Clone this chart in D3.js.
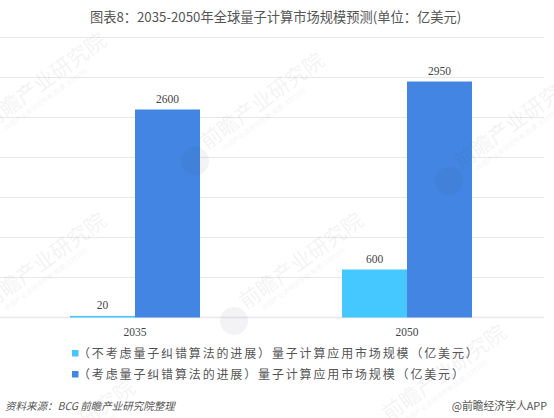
<!DOCTYPE html>
<html>
<head>
<meta charset="utf-8">
<script src="https://cdn.jsdelivr.net/npm/d3@7"></script>
<style>
html, body { margin: 0; padding: 0; background: #fff; }
svg { display: block; }
text { font-family: "Noto Sans CJK SC", "Liberation Sans", sans-serif; }
</style>
</head>
<body>
<div id="chart"></div>
<script>
var years = ["2035", "2050"];
var seriesNames = [
  "（不考虑量子纠错算法的进展）量子计算应用市场规模（亿美元）",
  "（考虑量子纠错算法的进展）量子计算应用市场规模（亿美元）"
];
var withoutCorrection = [20, 600];
var withCorrection = [2600, 2950];
var gridTicks = [0, 500, 1000, 1500, 2000, 2500, 3000, 3500];
var seriesColors = ["#45c8ff", "#4285e2"];

var width = 554, height = 418;
var svg = d3.select("#chart").append("svg").attr("width", width).attr("height", height);

var x = d3.scaleBand().domain(years).range([-1, 543]);
var y = d3.scaleLinear().domain([0, 3500]).range([317.5, 37.5]);
var xInner = d3.scaleBand().domain([0, 1]).range([0, 130]);

svg.append("text").attr("x", 275.5).attr("y", 21.5).attr("text-anchor", "middle")
  .attr("font-size", 13.25).attr("fill", "#555")
  .text("图表8：2035-2050年全球量子计算市场规模预测(单位：亿美元)");

svg.append("g").selectAll("line").data(gridTicks).join("line")
  .attr("x1", 0).attr("x2", 544)
  .attr("y1", function(d) { return y(d); })
  .attr("y2", function(d) { return y(d); })
  .attr("stroke", "#e8e8ea")
  .attr("stroke-width", function(d) { return d === 0 ? 1.5 : 1; });

[withoutCorrection, withCorrection].forEach(function(values, s) {
  var g = svg.append("g");
  function barX(d, i) { return x(years[i]) + (x.bandwidth() - 130) / 2 + xInner(s); }
  g.selectAll("rect").data(values).join("rect")
    .attr("x", barX)
    .attr("y", function(d) { return y(d); })
    .attr("width", xInner.bandwidth())
    .attr("height", function(d) { return y(0) - y(d); })
    .attr("fill", seriesColors[s]);
  g.selectAll("text").data(values).join("text")
    .attr("x", function(d, i) { return barX(d, i) + xInner.bandwidth() / 2; })
    .attr("y", function(d) { return y(d) - 7; })
    .attr("text-anchor", "middle")
    .style("font-family", "Liberation Serif")
    .attr("font-size", 11.5).attr("fill", "#444")
    .text(function(d) { return d; });
});

svg.append("g").selectAll("text").data(years).join("text")
  .attr("x", function(d) { return x(d) + x.bandwidth() / 2; })
  .attr("y", 336)
  .attr("text-anchor", "middle")
  .style("font-family", "Liberation Serif")
  .attr("font-size", 11.5).attr("fill", "#444")
  .text(function(d) { return d; });

var legend = svg.append("g").selectAll("g").data(seriesNames).join("g")
  .attr("transform", function(d, i) { return "translate(72," + (350 + i * 21) + ")"; });
legend.append("rect").attr("width", 6.5).attr("height", 6.5)
  .attr("fill", function(d, i) { return seriesColors[i]; });
legend.append("text").attr("x", 6).attr("y", 7.5)
  .attr("font-size", 12).attr("letter-spacing", 1.85).attr("fill", "#555")
  .text(function(d) { return d; });

svg.append("text").attr("x", 5).attr("y", 410)
  .attr("font-size", 10.5).attr("font-style", "italic").attr("fill", "#555")
  .text("资料来源：BCG 前瞻产业研究院整理");
svg.append("text").attr("x", 547).attr("y", 410).attr("text-anchor", "end")
  .attr("font-size", 10.8).attr("fill", "#555")
  .text("@前瞻经济学人APP");

// watermark goes over the bars, it darkens them slightly in the reference
var marks = [[-11, 130], [207, 150], [461, 170], [-11, 310], [246, 310], [389, 422], [18, 477]];
var wm = svg.append("g").attr("opacity", 0.07).selectAll("g").data(marks).join("g")
  .attr("transform", function(d) { return "translate(" + d[0] + "," + d[1] + ")"; });
wm.append("circle").attr("cx", -12).attr("cy", 11).attr("r", 14).attr("fill", "#556");
wm.append("text").attr("transform", "rotate(-36)")
  .attr("font-size", 21).attr("fill", "#556")
  .text("前瞻产业研究院");
wm.append("text").attr("transform", "rotate(-36) translate(14,11)")
  .attr("font-size", 6.5).attr("fill", "#556")
  .text("中国产业咨询领导者(股票: 839599)");
</script>
</body>
</html>
